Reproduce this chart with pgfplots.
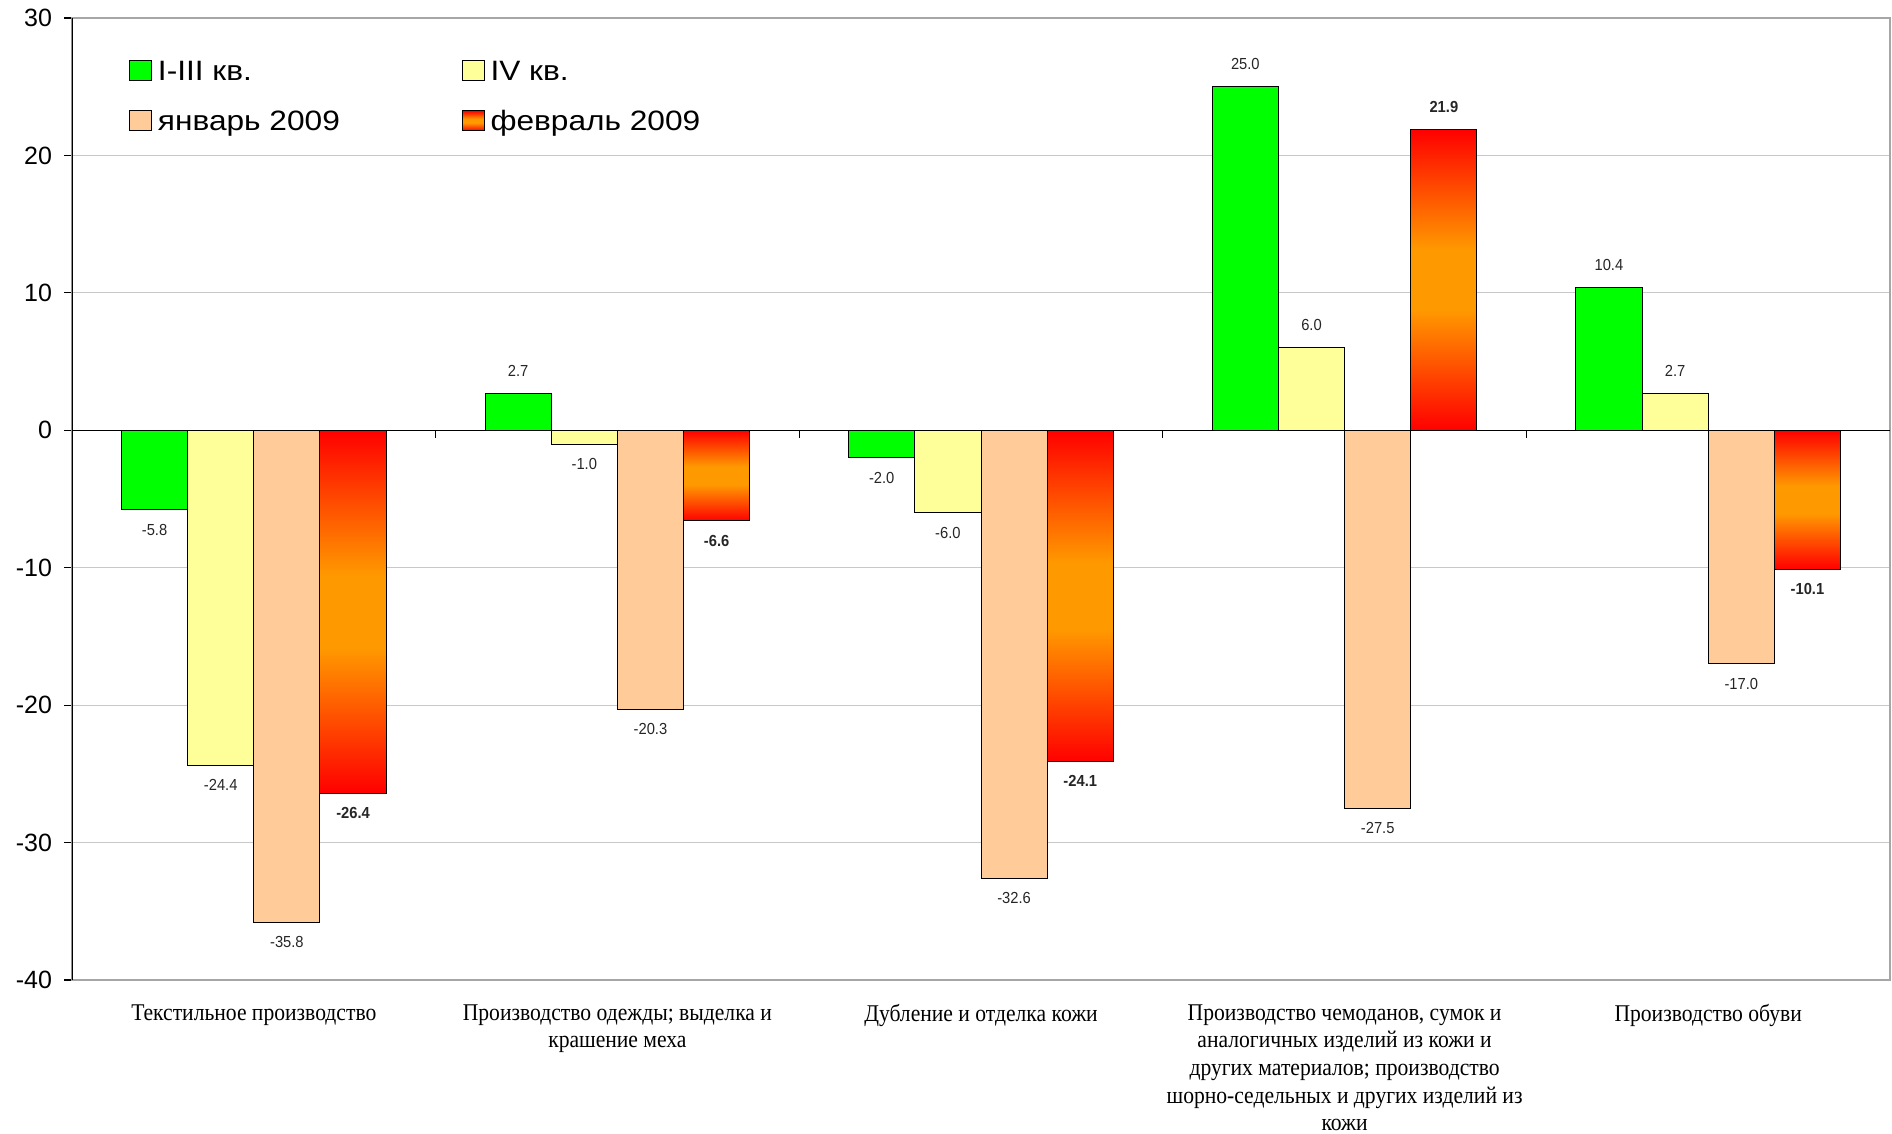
\documentclass[border=0pt]{standalone}
\usepackage{pgfplots}
\pgfplotsset{compat=1.18}
\usepackage{fontspec}
\setmainfont{Liberation Sans}
\newfontfamily\seriffont[FakeStretch=0.9]{Liberation Serif}
\newfontfamily\narrowfont[FakeStretch=0.92]{Liberation Sans}
\newfontfamily\legfont[FakeStretch=1.13]{Liberation Sans}
\definecolor{cgreen}{HTML}{00FF00}
\definecolor{cyellow}{HTML}{FFFF99}
\definecolor{cpeach}{HTML}{FFCC99}
\definecolor{corange}{HTML}{FF9900}
\definecolor{cred}{HTML}{FF0000}
\definecolor{cgrid}{HTML}{C8C8C8}
\pgfdeclareverticalshading{redorange}{100bp}{color(0bp)=(cred); color(25bp)=(cred); color(45bp)=(corange); color(55bp)=(corange); color(75bp)=(cred); color(100bp)=(cred)}
\pgfplotsset{
  sqlegend/.style={legend image code/.code={\draw[##1,draw=black,line width=0.5pt] (0pt,-5pt) rectangle (11pt,5pt);}},
  gradbar/.style={shade, shading=redorange, draw=black, line width=0.5pt, sqlegend, bar shift=0.273,
    nodes near coords style={font=\narrowfont\bfseries\fontsize{8}{9}\selectfont}},
}
\begin{document}
\begin{tikzpicture}
\useasboundingbox (-36pt,-77pt) rectangle (910pt,490pt);
\begin{axis}[
  scale only axis, width=909pt, height=481pt,
  xmin=-0.5, xmax=4.5, ymin=-40, ymax=30,
  ytick={-40,-30,...,30},
  xtick={0,1,2,3,4},
  xticklabels={
    {Текстильное производство},
    {Производство одежды; выделка и\\крашение меха},
    {Дубление и отделка кожи},
    {Производство чемоданов, сумок и\\аналогичных изделий из кожи и\\других материалов; производство\\шорно-седельных и других изделий из\\кожи},
    {Производство обуви}},
  xticklabel style={font=\seriffont\fontsize{12}{13.8}\selectfont, align=center, text=black},
  xticklabel shift=4.8pt,
  x tick style={draw=none},
  ytick pos=left, tick align=outside, major tick length=4pt,
  y tick style={black, line width=0.6pt},
  yticklabel style={font=\fontsize{12.5}{15}\selectfont, text=black, xshift=-2.5pt},
  /pgf/number format/assume math mode=true,
  ymajorgrids, grid style={cgrid, line width=0.6pt},
  axis line style={gray!70, line width=0.8pt},
  ybar=0pt, bar width=0.182,
  visualization depends on={rawy\as\rawy},
  nodes near coords={\pgfmathprintnumber[fixed,zerofill,precision=1,assume math mode=true]{\pgfplotspointmeta}},
  nodes near coords style={font=\narrowfont\fontsize{8}{9}\selectfont, text=black!85, inner ysep=6.8pt, yshift={(\rawy>0)*1.4}},
  legend columns=2,
  legend cell align=left,
  legend style={at={(rel axis cs:0,1)}, anchor=north west, xshift=28.5pt, yshift=-21pt,
    draw=none, fill=none, inner sep=0pt,
    font=\legfont\fontsize{14}{16}\selectfont,
    nodes={inner sep=0pt, text height=10pt, text depth=0pt},
    row sep=14.5pt,
    /tikz/every odd column/.append style={column sep=2.8pt},
    /tikz/every even column/.append style={column sep=61pt}},
]
\addplot[fill=cgreen, draw=black, line width=0.5pt, sqlegend, bar shift=-0.273] coordinates {(0,-5.8) (1,2.7) (2,-2.0) (3,25.0) (4,10.4)};
\addplot[fill=cyellow, draw=black, line width=0.5pt, sqlegend, bar shift=-0.091] coordinates {(0,-24.4) (1,-1.0) (2,-6.0) (3,6.0) (4,2.7)};
\addplot[fill=cpeach, draw=black, line width=0.5pt, sqlegend, bar shift=0.091] coordinates {(0,-35.8) (1,-20.3) (2,-32.6) (3,-27.5) (4,-17.0)};
\addplot[gradbar] coordinates {(0,-26.4)};
\addplot[gradbar, forget plot] coordinates {(1,-6.6)};
\addplot[gradbar, forget plot] coordinates {(2,-24.1)};
\addplot[gradbar, forget plot] coordinates {(3,21.9)};
\addplot[gradbar, forget plot] coordinates {(4,-10.1)};
\legend{I-III кв., IV кв., январь 2009, февраль 2009}
\draw[black, line width=0.7pt] (axis cs:-0.5,0) -- (axis cs:4.5,0);
\pgfplotsinvokeforeach{0.5,1.5,2.5,3.5}{\draw[black, line width=0.6pt] (axis cs:#1,0) -- ++(0pt,-4pt);}
\draw[black, line width=0.8pt] (rel axis cs:0,0) -- (rel axis cs:0,1);
\end{axis}
\end{tikzpicture}
\end{document}
